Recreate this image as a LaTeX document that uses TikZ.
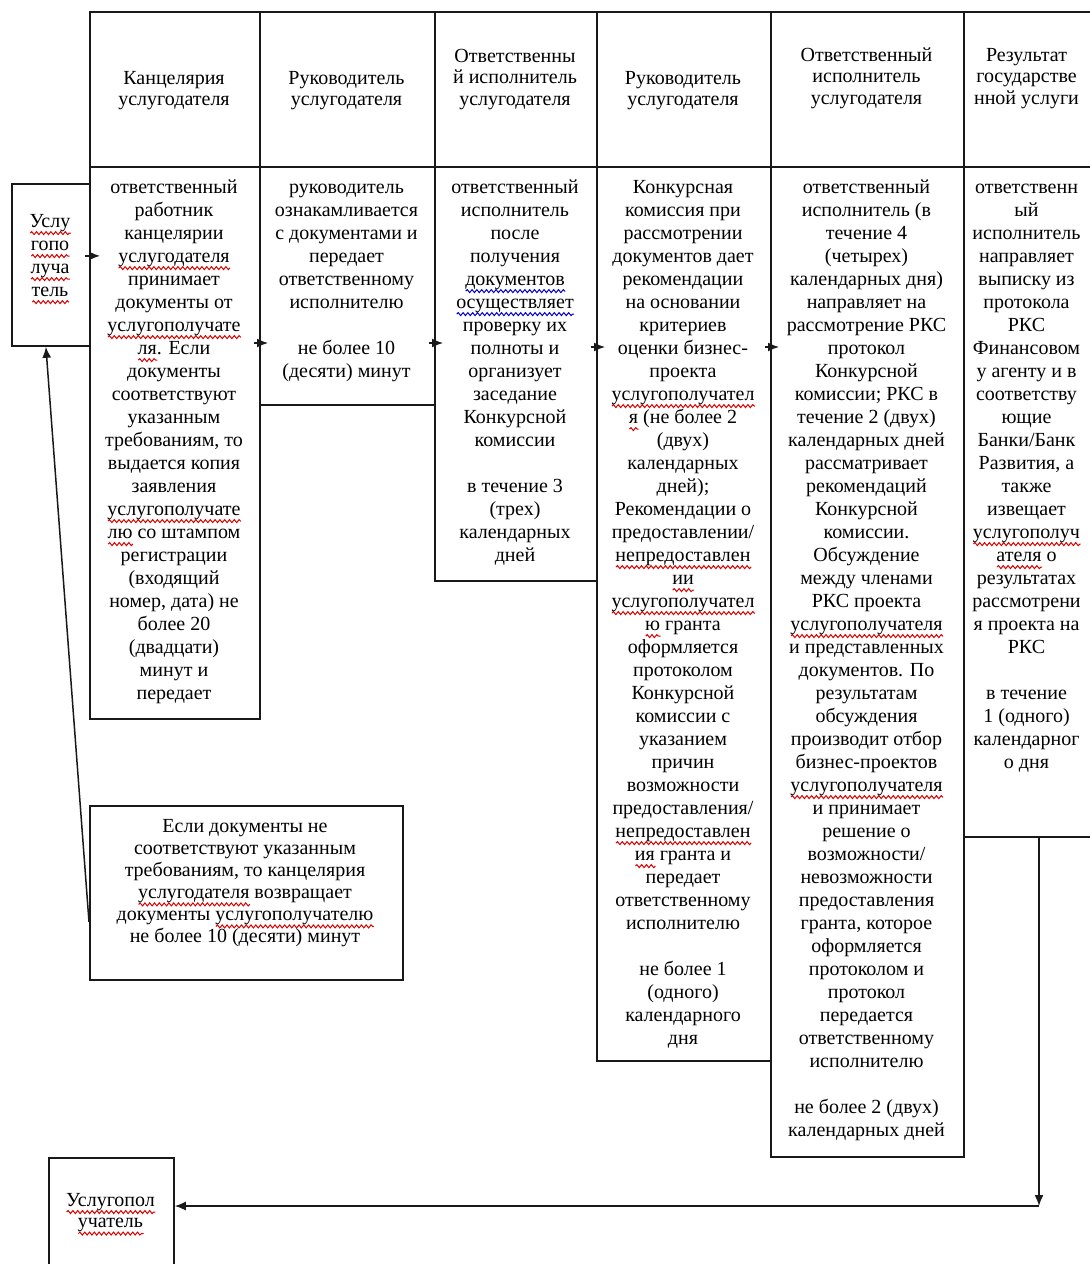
\documentclass[tikz,border=0pt]{standalone}
\usepackage{fontspec}
\setmainfont{Liberation Serif}
\usetikzlibrary{arrows.meta,decorations.pathmorphing}
% wavy spell-check style underline below a word
\newsavebox\sqbox
\newcommand\wavy[2]{\sbox\sqbox{#2}\rlap{\raisebox{-2.8pt}[0pt][0pt]{\tikz[baseline=0pt]\draw[#1,line width=0.5pt,decorate,decoration={snake,segment length=2.4pt,amplitude=0.75pt}] (0pt,0pt) -- (\wd\sqbox,0pt);}}\usebox\sqbox}
\newcommand\rsq{\wavy{red!85!black}}
\newcommand\bsq{\wavy{blue!80!black}}

\begin{document}
\begin{tikzpicture}[x=0.5pt,y=-0.5pt,
  box/.style={draw=black!90, line width=0.9pt, inner sep=0pt, anchor=north west},
  txt/.style={anchor=north, inner sep=0pt, align=center, text=black,
              font=\fontsize{10}{11.5}\selectfont},
  hdr/.style={txt, font=\fontsize{10}{10.75}\selectfont},
  arr/.style={draw=black!90, line width=0.75pt, -{Latex[length=5.5pt,width=4.5pt]}}]
\useasboundingbox (0,0) rectangle (1090,1264);
\clip (0,0) rectangle (1090,1264);

% header row
\node[box, minimum width=85pt,   minimum height=77.5pt] (h1) at (89,11)  {};
\node[box, minimum width=87.5pt, minimum height=77.5pt] (h2) at (259,11) {};
\node[box, minimum width=81pt,   minimum height=77.5pt] (h3) at (434,11) {};
\node[box, minimum width=87pt,   minimum height=77.5pt] (h4) at (596,11) {};
\node[box, minimum width=96.5pt, minimum height=77.5pt] (h5) at (770,11) {};
\node[box, minimum width=64.5pt, minimum height=77.5pt] (h6) at (963,11) {};

\node[hdr] (ht1) at (174,69)  {\strut Канцелярия\\услугодателя};
\node[hdr] (ht2) at (346.5,69) {\strut Руководитель\\услугодателя};
\node[hdr] (ht3) at (515,47)    {\strut Ответственны\\й исполнитель\\услугодателя};
\node[hdr] (ht4) at (683,69)  {\strut Руководитель\\услугодателя};
\node[hdr] (ht5) at (866.5,46)  {\strut Ответственный\\исполнитель\\услугодателя};
\node[hdr] (ht6) at (1026.5,46) {\strut Результат\\государстве\\нной услуги};

% step cells
\node[box, minimum width=85pt,   minimum height=276pt] (b1) at (89,166)  {};
\node[box, minimum width=87.5pt, minimum height=119pt] (b2) at (259,166) {};
\node[box, minimum width=81pt,   minimum height=207pt] (b3) at (434,166) {};
\node[box, minimum width=87pt,   minimum height=447pt] (b4) at (596,166) {};
\node[box, minimum width=96.5pt, minimum height=495pt] (b5) at (770,166) {};
\node[box, minimum width=64.5pt, minimum height=335pt] (b6) at (963,166) {};

\node[txt] (bt1) at (174,177) {\strut ответственный\\работник\\канцелярии\\\rsq{услугодателя}\\принимает\\документы от\\\rsq{услугополучате}\\\rsq{ля}. Если\\документы\\соответствуют\\указанным\\требованиям, то\\выдается копия\\заявления\\\rsq{услугополучате}\\\rsq{лю} со штампом\\регистрации\\(входящий\\номер, дата) не\\более 20\\(двадцати)\\минут и\\передает};

\node[txt] (bt2) at (346.5,177) {\strut руководитель\\ознакамливается\\с документами и\\передает\\ответственному\\исполнителю\\[11.5pt]не более 10\\(десяти) минут};

\node[txt] (bt3) at (515,177) {\strut ответственный\\исполнитель\\после\\получения\\\bsq{документов}\\\bsq{осуществляет}\\проверку их\\полноты и\\организует\\заседание\\Конкурсной\\комиссии\\[11.5pt]в течение 3\\(трех)\\календарных\\дней};

\node[txt] (bt4) at (683,177) {\strut Конкурсная\\комиссия при\\рассмотрении\\документов дает\\рекомендации\\на основании\\критериев\\оценки бизнес-\\проекта\\\rsq{услугополучател}\\\rsq{я} (не более 2\\(двух)\\календарных\\дней);\\Рекомендации о\\предоставлении/\\\rsq{непредоставлен}\\\rsq{ии}\\\rsq{услугополучател}\\\rsq{ю} гранта\\оформляется\\протоколом\\Конкурсной\\комиссии с\\указанием\\причин\\возможности\\предоставления/\\\rsq{непредоставлен}\\\rsq{ия} гранта и\\передает\\ответственному\\исполнителю\\[11.5pt]не более 1\\(одного)\\календарного\\дня};

\node[txt] (bt5) at (866.5,177) {\strut ответственный\\исполнитель (в\\течение 4\\(четырех)\\календарных дня)\\направляет на\\рассмотрение РКС\\протокол\\Конкурсной\\комиссии; РКС в\\течение 2 (двух)\\календарных дней\\рассматривает\\рекомендаций\\Конкурсной\\комиссии.\\Обсуждение\\между членами\\РКС проекта\\\rsq{услугополучателя}\\и представленных\\документов. По\\результатам\\обсуждения\\производит отбор\\бизнес-проектов\\\rsq{услугополучателя}\\и принимает\\решение о\\возможности/\\невозможности\\предоставления\\гранта, которое\\оформляется\\протоколом и\\протокол\\передается\\ответственному\\исполнителю\\[11.5pt]не более 2 (двух)\\календарных дней};

\node[txt] (bt6) at (1026.5,177) {\strut ответственн\\ый\\исполнитель\\направляет\\выписку из\\протокола\\РКС\\Финансовом\\у агенту и в\\соответству\\ющие\\Банки/Банк\\Развития, а\\также\\извещает\\\rsq{услугополуч}\\\rsq{ателя} о\\результатах\\рассмотрени\\я проекта на\\РКС\\[11.5pt]в течение\\1 (одного)\\календарног\\о дня};

% applicant boxes and the return note
\node[box, minimum width=39pt, minimum height=81pt] (lb) at (11,183) {};
\node[txt] (lt) at (50,211) {\strut\rsq{Услу}\\\rsq{гопо}\\\rsq{луча}\\\rsq{тель}};

\node[box, minimum width=156.5pt, minimum height=87pt] (ret) at (89,805) {};
\node[txt, font=\fontsize{10}{11}\selectfont] (rt) at (245,817) {\strut Если документы не\\соответствуют указанным\\требованиям, то канцелярия\\\rsq{услугодателя} возвращает\\документы \rsq{услугополучателю}\\не более 10 (десяти) минут};

\node[box, minimum width=62.5pt, minimum height=70pt] (bb) at (48,1157) {};
\node[hdr] (btx) at (110.5,1191) {\strut\rsq{Услугопол}\\\rsq{учатель}};

% flow arrows
\coordinate (lvlA) at (0,343);
\coordinate (lvlB) at (0,347);
\draw[arr] ([shift={(-3pt,4.5pt)}]lb.east) coordinate (s0) -- ([xshift=5.5pt]b1.west |- s0);
\draw[arr] ([xshift=-3.5pt]b1.east |- lvlA) -- ([xshift=4.5pt]b2.west |- lvlA);
\draw[arr] ([xshift=-3.5pt]b2.east |- lvlA) -- ([xshift=4.5pt]b3.west |- lvlA);
\draw[arr] ([xshift=-3.5pt]b3.east |- lvlB) -- ([xshift=4.5pt]b4.west |- lvlB);
\draw[arr] ([xshift=-3.5pt]b4.east |- lvlB) -- ([xshift=4.5pt]b5.west |- lvlB);

\draw[arr] ([yshift=-14.5pt]ret.west) -- ([xshift=-2.5pt]lb.south);

\coordinate (turn) at (1039,1206);
\draw[arr] (b6.south -| turn) -- (turn);
\draw[arr] (turn) -- (bb.east |- turn);
\end{tikzpicture}
\end{document}
